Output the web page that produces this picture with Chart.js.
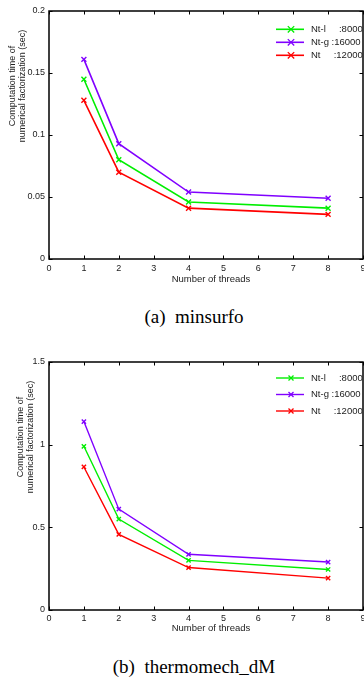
<!DOCTYPE html>
<html><head><meta charset="utf-8">
<script src="https://cdn.jsdelivr.net/npm/chart.js@4"></script>
<style>
body{margin:0;background:#fff;width:364px;height:680px;position:relative;overflow:hidden}
.box{position:absolute;left:0;width:364px;height:300px}
.cap{position:absolute;left:0;width:388px;text-align:center;font-family:"Liberation Serif","Times New Roman",serif;font-size:19px;line-height:22px;white-space:pre;color:#000}
</style></head><body>
<div class="box" style="top:0"><canvas id="c1" width="364" height="300"></canvas></div>
<div class="cap" style="top:306px">(a)  minsurfo</div>
<div class="box" style="top:350px"><canvas id="c2" width="364" height="300"></canvas></div>
<div class="cap" style="top:656px">(b)  thermomech_dM</div>
<script>
const threads = [1, 2, 4, 8];
const xTicks = [0, 1, 2, 3, 4, 5, 6, 7, 8, 9];
const seriesLabels = ['Nt-l     :8000', 'Nt-g :16000', 'Nt     :12000'];
const seriesColors = ['#00ee00', '#8000ff', '#ff0000'];

const minsurfoNtl = [0.145, 0.080, 0.046, 0.041];
const minsurfoNtg = [0.161, 0.093, 0.054, 0.049];
const minsurfoNt  = [0.128, 0.070, 0.041, 0.036];
const minsurfoYTicks = [0, 0.05, 0.1, 0.15, 0.2];

const thermoNtl = [0.99, 0.55, 0.30, 0.245];
const thermoNtg = [1.14, 0.61, 0.337, 0.29];
const thermoNt  = [0.865, 0.457, 0.257, 0.193];
const thermoYTicks = [0, 0.5, 1, 1.5];

const yTitleLines = ['Computation time of', 'numerical factorization (sec)'];
const xTitle = 'Number of threads';
const FONT = '"Liberation Sans", Arial, Helvetica, sans-serif';

function pts(vals){ return threads.map((t,i)=>({x:t, y:vals[i]})); }

function build(id, series, yTicks, opt){
  const datasets = series.map((s,i)=>({
    label: seriesLabels[i], data: pts(s),
    borderColor: seriesColors[i], backgroundColor: seriesColors[i],
    borderWidth: opt.lw, pointStyle: 'crossRot', pointRadius: opt.pr,
    pointBorderWidth: 1.4, pointHoverRadius: opt.pr, tension: 0
  }));
  const decor = {
    id: 'decor',
    afterDraw(chart){
      const ctx = chart.ctx, a = chart.chartArea;
      const xs = chart.scales.x, ys = chart.scales.y;
      ctx.save();
      ctx.strokeStyle = '#000'; ctx.lineWidth = 1.5;
      ctx.strokeRect(a.left, a.top, a.right - a.left, a.bottom - a.top);
      ctx.lineWidth = 1;
      const tl = 3.5;
      xTicks.forEach(v=>{
        const px = Math.round(xs.getPixelForValue(v)) + 0.5;
        ctx.beginPath(); ctx.moveTo(px, a.bottom); ctx.lineTo(px, a.bottom - tl);
        ctx.moveTo(px, a.top); ctx.lineTo(px, a.top + tl); ctx.stroke();
      });
      yTicks.forEach(v=>{
        const py = Math.round(ys.getPixelForValue(v)) + 0.5;
        ctx.beginPath(); ctx.moveTo(a.left, py); ctx.lineTo(a.left + tl, py);
        ctx.moveTo(a.right, py); ctx.lineTo(a.right - tl, py); ctx.stroke();
      });
      ctx.fillStyle = '#222';
      ctx.font = '9.5px ' + FONT;
      ctx.textAlign = 'center'; ctx.textBaseline = 'middle';
      ctx.fillText(xTitle, opt.xTitleX, a.bottom + opt.xTitleDy);
      ctx.font = '9px ' + FONT;
      const yc = a.top + opt.yTitleDy;
      yTitleLines.forEach((t,i)=>{
        ctx.save();
        ctx.translate(opt.yTitleX + i*10, yc);
        ctx.rotate(-Math.PI/2);
        ctx.fillText(t, 0, 0);
        ctx.restore();
      });
      ctx.textAlign = 'left';
      ctx.font = '9.5px ' + FONT;
      chart.data.datasets.forEach((ds,i)=>{
        const y = opt.legY + i*opt.legDy;
        ctx.strokeStyle = ds.borderColor; ctx.lineWidth = opt.lw;
        ctx.beginPath(); ctx.moveTo(276, y); ctx.lineTo(304, y); ctx.stroke();
        const r = opt.legR; ctx.lineWidth = 1.3;
        ctx.beginPath(); ctx.moveTo(291-r, y-r); ctx.lineTo(291+r, y+r);
        ctx.moveTo(291+r, y-r); ctx.lineTo(291-r, y+r); ctx.stroke();
        ctx.fillStyle = '#222';
        ctx.fillText(ds.label, 311, y);
      });
      ctx.restore();
    }
  };
  return new Chart(document.getElementById(id), {
    type: 'line',
    data: { datasets },
    options: {
      responsive: false, animation: false, events: [],
      layout: { autoPadding: false, padding: { top: opt.top, right: 1, left: 0, bottom: 0 } },
      plugins: { legend: { display: false }, tooltip: { enabled: false } },
      scales: {
        x: {
          type: 'linear', min: 0, max: 9,
          grid: { display: false, drawTicks: false, tickLength: 0 }, border: { display: false },
          afterBuildTicks: s => { s.ticks = xTicks.map(v=>({value:v})); },
          afterFit: s => { s.height = 300 - opt.bottom; s.paddingLeft = 0; s.paddingRight = 0; },
          ticks: { padding: opt.xPad, color: '#222', font: { family: FONT, size: 9 }, maxRotation: 0, autoSkip: false,
                   callback: v => String(v) }
        },
        y: {
          type: 'linear', min: yTicks[0], max: yTicks[yTicks.length-1],
          grid: { display: false, drawTicks: false, tickLength: 0 }, border: { display: false },
          afterBuildTicks: s => { s.ticks = yTicks.map(v=>({value:v})); },
          afterFit: s => { s.width = 49; s.paddingTop = 0; s.paddingBottom = 0; },
          ticks: { padding: 4, color: '#222', font: { family: FONT, size: 9 },
                   callback: v => String(v) }
        }
      }
    },
    plugins: [decor]
  });
}

build('c1', [minsurfoNtl, minsurfoNtg, minsurfoNt], minsurfoYTicks,
  { top: 11, bottom: 259, lw: 1.6, pr: 3.5, legR: 3.2, legY: 29.3, legDy: 13,
    xPad: 4, xTitleX: 211, xTitleDy: 20, yTitleX: 13, yTitleDy: 75 });
build('c2', [thermoNtl, thermoNtg, thermoNt], thermoYTicks,
  { top: 12, bottom: 260, lw: 1.4, pr: 3, legR: 2.5, legY: 28, legDy: 16.5,
    xPad: 3, xTitleX: 211, xTitleDy: 18, yTitleX: 21, yTitleDy: 75 });
</script>
</body></html>
